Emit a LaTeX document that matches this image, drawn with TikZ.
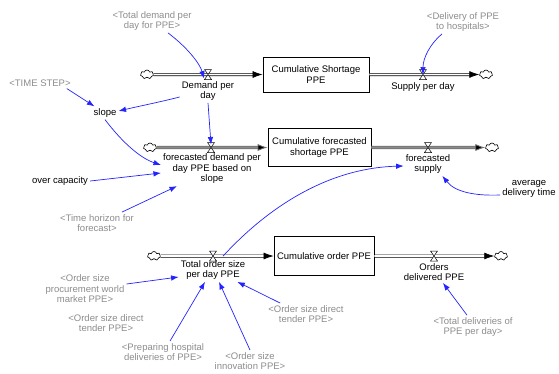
\documentclass[tikz,border=0pt]{standalone}
\usepackage{fontspec}
\setmainfont{Liberation Sans}
\usetikzlibrary{arrows.meta,shapes.symbols}
\definecolor{linkblue}{RGB}{35,35,255}
\definecolor{shadowgrey}{RGB}{140,140,140}
\definecolor{pipegrey}{RGB}{110,110,110}
\tikzset{
  lab/.style={font=\fontsize{9.5}{10.5}\selectfont, align=center, inner sep=2pt},
  shadowlab/.style={lab, text=shadowgrey},
  stockbox/.style={draw, line width=0.8pt, font=\fontsize{9.5}{10.5}\selectfont, align=center, inner sep=0pt},
  link/.style={draw=linkblue, line width=0.7pt, -{Latex[length=7.5pt,width=5.5pt]}},
  pipe/.style={draw=black, double=white, double distance=1.6pt, line width=0.7pt, -{Latex[length=10pt,width=7pt]}},
  greypipe/.style={draw=pipegrey, double=pipegrey!80, double distance=1.6pt, line width=0.8pt, -{Latex[length=10pt,width=7pt,fill=black]}},
  sourcecloud/.style={cloud, cloud puffs=7, aspect=1.4, draw, line width=0.6pt, fill=white, minimum width=13pt, minimum height=9pt, inner sep=0pt},
  valvepic/.pic={\draw[fill=white, line width=0.5pt] (-3.5,-5)--(3.5,-5)--(-3.5,5)--(3.5,5)--cycle;}
}
\begin{document}
\begin{tikzpicture}[x=1pt,y=-1pt]
\useasboundingbox (0,0) rectangle (559,373);

% stocks
\node[stockbox, minimum width=106pt, minimum height=35pt] (s1) at (316,74.5) {Cumulative Shortage\\PPE};
\node[stockbox, minimum width=103pt, minimum height=38pt] (s2) at (319.5,147.5) {Cumulative forecasted\\shortage PPE};
\node[stockbox, minimum width=100pt, minimum height=39pt] (s3) at (324,256) {Cumulative order PPE};

% clouds
\node[sourcecloud] (c1) at (147,74.5) {};
\node[sourcecloud] (c1b) at (486,74.5) {};
\node[sourcecloud] (c2) at (150,147.5) {};
\node[sourcecloud] (c2b) at (492,147.5) {};
\node[sourcecloud] (c3) at (154,256) {};
\node[sourcecloud] (c3b) at (501,256) {};

% pipes
\draw[pipe] (c1.east) -- (s1.west);
\draw[pipe] (s1.east) -- (c1b.west);
\draw[greypipe] (c2.east) -- (s2.west);
\draw[greypipe] (s2.east) -- (c2b.west);
\draw[pipe] (c3.east) -- (s3.west);
\draw[pipe] (s3.east) -- (c3b.west);

% valves
\coordinate (v1) at (208,74.5);
\coordinate (v1b) at (423,74.5);
\coordinate (v2) at (211,147.5);
\coordinate (v2b) at (428,147.5);
\coordinate (v3) at (213,256);
\coordinate (v3b) at (434,256);
\pic at (v1) {valvepic};
\pic at (v1b) {valvepic};
\pic at (v2) {valvepic};
\pic at (v2b) {valvepic};
\pic at (v3) {valvepic};
\pic at (v3b) {valvepic};

% labels
\node[lab] (dpd) at (208,91) {Demand per\\day};
\node[lab] (spd) at (423,87) {Supply per day};
\node[shadowlab] (tdd) at (152,21) {<Total demand per\\day for PPE>};
\node[shadowlab] (dph) at (463,22) {<Delivery of PPE\\to hospitals>};
\node[shadowlab] (ts) at (40,83) {<TIME STEP>};
\node[lab] (slope) at (105,113) {slope};
\node[lab] (fd) at (212,169) {forecasted demand per\\day PPE based on\\slope};
\node[lab] (oc) at (60,181) {over capacity};
\node[shadowlab] (th) at (97,223) {<Time horizon for\\forecast>};
\node[lab] (fs) at (428,164) {forecasted\\supply};
\node[lab] (adt) at (529,189) {average\\delivery time};
\node[lab] (tos) at (213,270) {Total order size\\per day PPE};
\node[lab] (od) at (434,272) {Orders\\delivered PPE};
\node[shadowlab] (op) at (85,289) {<Order size\\procurement world\\market PPE>};
\node[shadowlab] (dt1) at (106,323) {<Order size direct\\tender PPE>};
\node[shadowlab] (ph) at (163,352) {<Preparing hospital\\deliveries of PPE>};
\node[shadowlab] (inn) at (250,361) {<Order size\\innovation PPE>};
\node[shadowlab] (dt2) at (306,314) {<Order size direct\\tender PPE>};
\node[shadowlab] (tdp) at (473,327) {<Total deliveries of\\PPE per day>};

% links
\draw[link] ([xshift=16pt]tdd.south) .. controls (188,48) and (200,64) .. ([xshift=-4pt,yshift=-4pt]v1);
\draw[link] ([xshift=-21pt]dph.south) .. controls (430,44) and (423,58) .. (v1b);
\draw[link] ([xshift=-6pt]ts.south east) -- ([xshift=3pt]slope.north west);
\draw[link] ([yshift=-6pt]dpd.west) .. controls (160,102) and (140,106) .. ([yshift=2pt]slope.east);
\draw[link] (dpd.south) -- ([yshift=3pt]v2);
\draw[link] (slope.south) .. controls (122,142) and (140,158) .. ([yshift=4pt]fd.west);
\draw[link] (oc.east) -- ([yshift=-4pt]fd.west);
\draw[link] ([xshift=25pt]th.north) -- ([xshift=-35pt]fd.south);
\draw[link] ([xshift=10pt,yshift=2pt]tos.north) .. controls (270,205) and (330,168) .. ([yshift=-2pt]fs.west);
\draw[link] ([yshift=-6pt]adt.west) .. controls (475,196) and (455,192) .. ([xshift=-10pt]fs.south east);
\draw[link] ([yshift=5pt]op.east) -- ([yshift=-7pt]tos.west);
\draw[link] ([xshift=7pt]ph.north) -- ([xshift=-8pt]tos.south);
\draw[link] (inn.north) -- ([xshift=6pt]tos.south);
\draw[link] ([xshift=14pt]dt2.north west) -- ([xshift=-10pt]tos.south east);
\draw[link] ([xshift=-6pt]tdp.north) -- ([xshift=9pt]od.south);
\end{tikzpicture}
\end{document}
